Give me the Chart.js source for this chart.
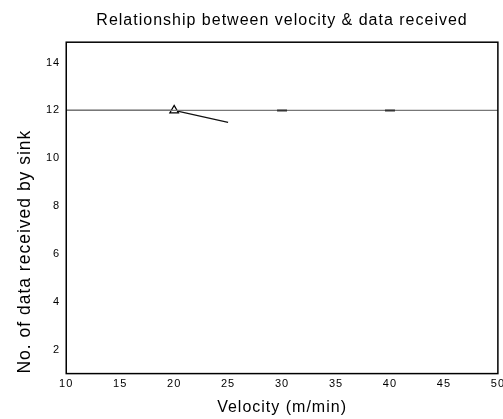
<!DOCTYPE html>
<html>
<head>
<meta charset="utf-8">
<script src="https://cdn.jsdelivr.net/npm/chart.js@4/dist/chart.umd.min.js"></script>
<style>
  html, body { margin: 0; padding: 0; background: #fff; overflow: hidden; }
  #box { width: 509px; height: 419px; }
</style>
</head>
<body>
<div id="box"><canvas id="chart"></canvas></div>
<script>
// velocity (m/min) vs data received
var sinkVelocity = [10, 20, 25];
var sinkReceived = [12, 12, 11.5];
var refVelocity = [10, 20, 30, 40, 50];
var refReceived = [12, 12, 12, 12, 12];
var xTicks = [10, 15, 20, 25, 30, 35, 40, 45, 50];
var yTicks = [2, 4, 6, 8, 10, 12, 14];

function toPoints(xs, ys) {
    return xs.map((x, i) => ({ x: x, y: ys[i] }));
}

// spaced out lettering like the original plot
var spacing = {
    id: 'spacing',
    beforeLayout(chart) { chart.ctx.letterSpacing = '1px'; },
    beforeDraw(chart) { chart.ctx.letterSpacing = '1px'; }
};

var frame = {
    id: 'frame',
    afterDatasetsDraw(chart) {
        let a = chart.chartArea;
        let ctx = chart.ctx;
        ctx.save();
        ctx.strokeStyle = '#000';
        ctx.lineWidth = 1.5;
        ctx.strokeRect(a.left, a.top, a.right - a.left, a.bottom - a.top);
        ctx.restore();
    }
};

var font = "'Liberation Sans', Arial, sans-serif";

new Chart(document.getElementById('chart'), {
    type: 'scatter',
    data: {
        datasets: [{
            data: toPoints(refVelocity, refReceived),
            showLine: true,
            borderColor: '#777',
            borderWidth: 1.2,
            pointStyle: 'line',
            pointRadius: [0, 0, 5, 5, 0],
            pointBorderColor: '#333',
            pointBorderWidth: 2
        }, {
            data: toPoints(sinkVelocity, sinkReceived),
            showLine: true,
            borderColor: '#111',
            borderWidth: 1.2,
            pointStyle: 'triangle',
            pointRadius: [0, 5, 0],
            pointBackgroundColor: '#fff',
            pointBorderColor: '#000',
            pointBorderWidth: 1.2
        }]
    },
    options: {
        responsive: true,
        maintainAspectRatio: false,
        animation: false,
        layout: { padding: { left: 15, right: 0, top: 0, bottom: 2 } },
        plugins: {
            legend: { display: false },
            tooltip: { enabled: false },
            title: {
                display: true,
                fullSize: false,
                text: 'Relationship between velocity & data received',
                color: '#000',
                font: { family: font, size: 16, weight: 'normal' },
                padding: { top: 11, bottom: 12 }
            }
        },
        scales: {
            x: {
                type: 'linear',
                min: 10,
                max: 50,
                afterBuildTicks: (axis) => { axis.ticks = xTicks.map(v => ({ value: v })); },
                grid: { display: false, drawTicks: false },
                border: { display: false },
                ticks: { color: '#000', font: { family: font, size: 11 }, padding: 4, maxRotation: 0 },
                title: {
                    display: true,
                    text: 'Velocity (m/min)',
                    color: '#000',
                    font: { family: font, size: 16 },
                    padding: { top: 3, bottom: 0 }
                }
            },
            y: {
                type: 'linear',
                min: 1,
                max: 14.85,
                afterBuildTicks: (axis) => { axis.ticks = yTicks.map(v => ({ value: v })); },
                grid: { display: false, drawTicks: false },
                border: { display: false },
                ticks: { color: '#000', font: { family: font, size: 11 }, padding: 6 },
                title: {
                    display: true,
                    align: 'start',
                    text: 'No. of data received by sink',
                    color: '#000',
                    font: { family: font, size: 17.5 },
                    padding: { top: 0, bottom: 4 }
                }
            }
        }
    },
    plugins: [spacing, frame]
});
</script>
</body>
</html>
